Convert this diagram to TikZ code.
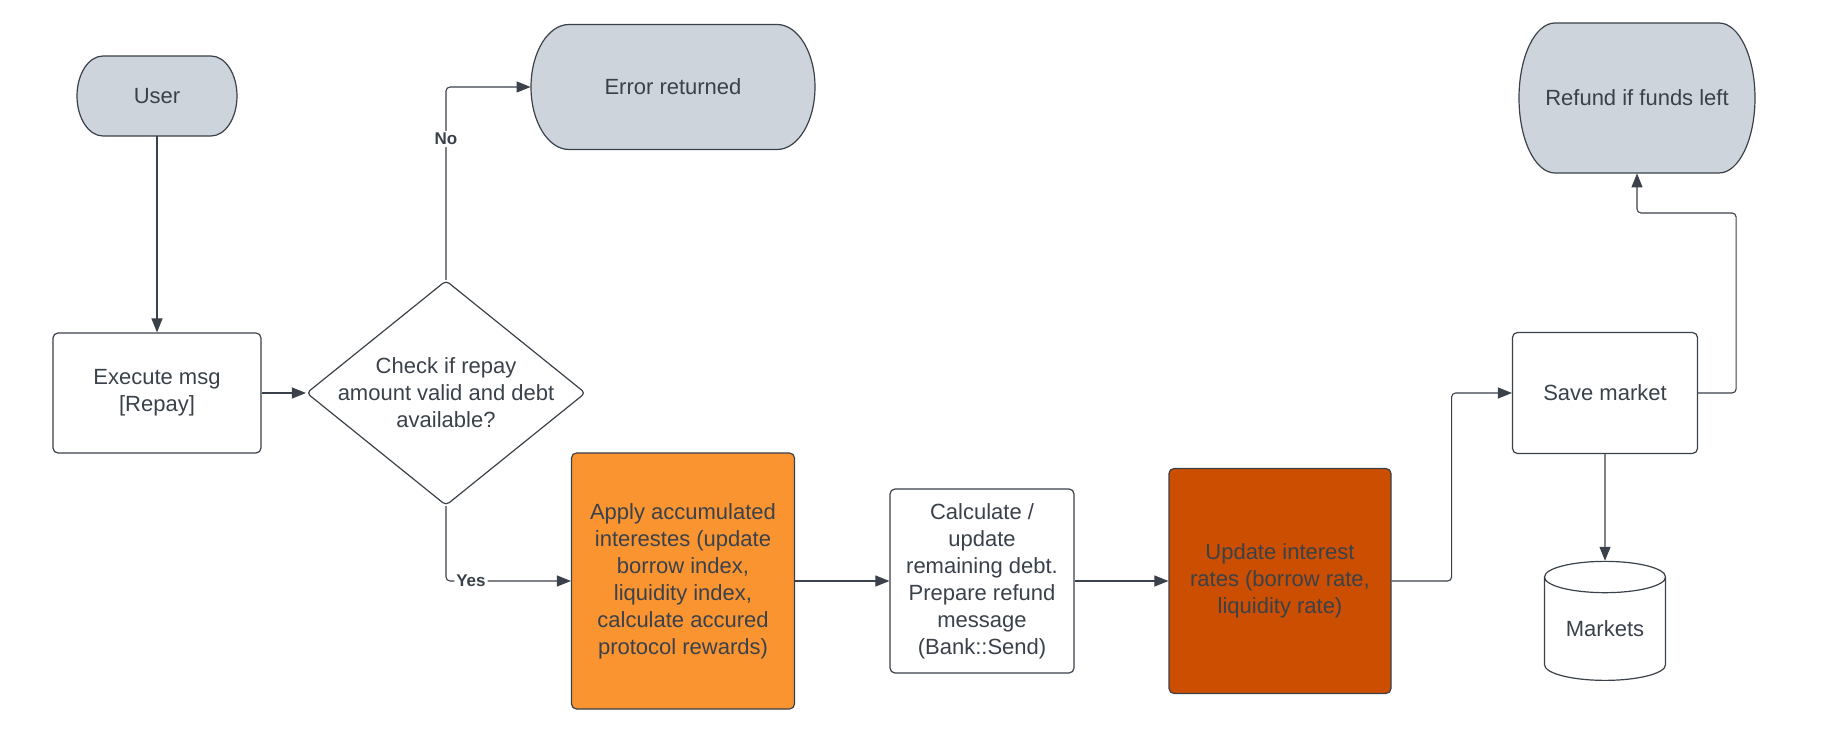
\documentclass[tikz,border=0pt]{standalone}
\usepackage{fontspec}
\setmainfont{Liberation Sans}
\usepackage{xcolor}
\usepackage{tikz}
\usetikzlibrary{shapes.geometric,arrows.meta,positioning}

\definecolor{ink}{HTML}{3A414A}
\definecolor{termgray}{HTML}{CED4DB}
\definecolor{lightorange}{HTML}{F99431}
\definecolor{darkorange}{HTML}{CC4E00}

% terminal: name, x, y, width, height, side radius, text
\newcommand{\termbox}[7]{%
  \filldraw[fill=termgray, draw=ink, line width=0.6pt]
    ({#2-#4/2+#6},{#3+#5/2}) -- ({#2+#4/2-#6},{#3+#5/2})
    arc[start angle=90, end angle=-90, x radius={#6*0.5pt}, y radius={#5*0.25pt}]
    -- ({#2-#4/2+#6},{#3-#5/2})
    arc[start angle=270, end angle=90, x radius={#6*0.5pt}, y radius={#5*0.25pt}] -- cycle;
  \node[term, minimum width={#4*0.5pt}, minimum height={#5*0.5pt}] (#1) at (#2,#3) {#7};
}

\begin{document}
\begin{tikzpicture}[x=0.5pt, y=0.5pt,
    font=\fontsize{11}{13.5}\selectfont, text=ink,
    term/.style={rectangle, align=center, inner sep=0pt},
    box/.style={rectangle, draw=ink, rounded corners=2.5pt, line width=0.6pt, align=center, inner sep=2pt},
    decision/.style={diamond, draw=ink, line width=0.6pt, rounded corners=2pt, minimum width=139.5pt, minimum height=112.5pt, inner sep=0pt},
    db/.style={cylinder, shape border rotate=90, aspect=0.4, draw=ink, line width=0.6pt, minimum width=60.5pt, minimum height=59.5pt, inner sep=0pt},
    arrow/.style={-{Triangle[length=7pt, width=5.5pt]}, draw=ink, line width=0.55pt, rounded corners=2pt},
    answer/.style={font=\fontsize{8.5}{10}\selectfont\bfseries, fill=white, inner sep=1pt}
]
    \useasboundingbox (0,0) rectangle (1822,-732);

    % Terminals
    \termbox{user}{157}{-96}{160}{80}{26}{User}
    \termbox{err}{673}{-87}{284}{125}{38}{Error returned}
    \termbox{refund}{1637}{-98}{236}{150}{36}{Refund if funds left}

    % Steps
    \node[box, minimum width=104pt, minimum height=60pt] (exec) at (157,-393) {Execute msg\\{[Repay]}};
    \node[decision] (check) at (446,-393) {};
    \node[align=center] (checktxt) at (check) {Check if repay\\amount valid and debt\\available?};
    \node[box, fill=lightorange, minimum width=111.5pt, minimum height=128pt] (apply) at (683,-581)
        {Apply accumulated\\interestes (update\\borrow index,\\liquidity index,\\calculate accured\\protocol rewards)};
    \node[box, minimum width=92pt, minimum height=92pt] (calc) at (982,-581)
        {Calculate /\\update\\remaining debt.\\Prepare refund\\message\\(Bank::Send)};
    \node[box, fill=darkorange, minimum width=111pt, minimum height=112.5pt] (upd) at (1280,-581)
        {Update interest\\rates (borrow rate,\\liquidity rate)};
    \node[box, minimum width=92.5pt, minimum height=60.5pt] (save) at (1605,-393) {Save market};
    \node[db] (mkts) at (1605,-629) {Markets};

    % Connections
    \draw[arrow] (user) -- (exec);
    \draw[arrow] (exec) -- (check);
    \draw[arrow] (check.north) |- node[answer, pos=0.365] {No} (err.west);
    \draw[arrow] (check.south) |- node[answer, pos=0.6] {Yes} (apply.west);
    \draw[arrow] (apply) -- (calc);
    \draw[arrow] (calc) -- (upd);
    \draw[arrow] (upd.east) -- ++(60,0) |- (save.west);
    \coordinate (refundbend) at (1637,-213);
    \draw[arrow] (save.east) -- ++(38,0) |- (refundbend) -- (refund.south);
    \draw[arrow] (save) -- (mkts);
\end{tikzpicture}
\end{document}
